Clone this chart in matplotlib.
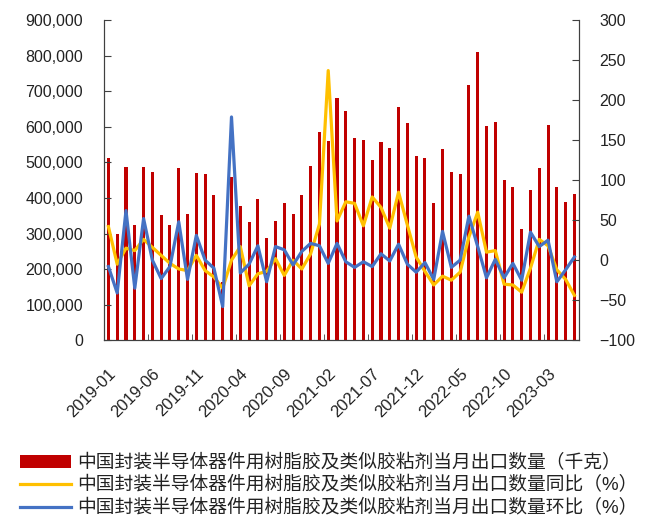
import numpy as np
import pandas as pd
import matplotlib
matplotlib.use('Agg')
import matplotlib.pyplot as plt
from matplotlib.ticker import FuncFormatter, FixedLocator

plt.rcParams['font.family'] = ['Liberation Sans', 'Noto Sans CJK SC', 'DejaVu Sans']

# monthly data, 2019-01 .. 2023-06
months = pd.period_range('2019-01', '2023-06', freq='M').strftime('%Y-%m').tolist()

export_kg = [511000, 300000, 487000, 323000, 487000, 473000, 352000, 325000, 483000, 354000,
             470000, 466000, 408000, 164000, 459000, 377000, 333000, 398000, 286000, 336000,
             386000, 354000, 408000, 490000, 586000, 560000, 680000, 645000, 569000, 562000,
             508000, 556000, 541000, 656000, 612000, 519000, 513000, 386000, 537000, 472000,
             466000, 718000, 811000, 603000, 613000, 451000, 431000, 314000, 422000, 483000,
             606000, 431000, 389000, 411000]

yoy = [42, -5, 15, 12, 26, 16, 6, -4, -11, -13,
       6, -13, -21, -35, 0, 17, -32, -17, -14, 2,
       -19, 0, -11, 8, 45, 237, 49, 73, 71, 43,
       79, 66, 40, 85, 44, 4, -14, -31, -20, -25,
       -15, 29, 60, 10, 12, -30, -31, -40, -10, 26,
       18, -12, -24, -44]

mom = [-8, -41, 62, -35, 52, 0, -23, -8, 48, -24,
       31, 0, -10, -58, 179, -16, -5, 18, -27, 17,
       13, -6, 11, 21, 18, -4, 21, -2, -9, -2,
       -8, 8, -1, 20, -5, -15, -3, -24, 36, -9,
       0, 55, 17, -22, 1, -22, -4, -25, 35, 17,
       25, -27, -12, 4]

label_names = ['中国封装半导体器件用树脂胶及类似胶粘剂当月出口数量（千克）',
               '中国封装半导体器件用树脂胶及类似胶粘剂当月出口数量同比（%）',
               '中国封装半导体器件用树脂胶及类似胶粘剂当月出口数量环比（%）']

x = np.arange(len(months))

fig = plt.figure(figsize=(6.46, 5.17), dpi=100)
ax = fig.add_axes([0.161, 0.342, 0.735, 0.619])
ax2 = ax.twinx()

b = ax.bar(x, export_kg, width=0.35, color='#C00000', label=label_names[0])
l1, = ax2.plot(x, yoy, color='#FFC000', linewidth=2.3, label=label_names[1])
l2, = ax2.plot(x, mom, color='#4472C4', linewidth=2.3, label=label_names[2])

ax.set_xlim(-0.5, len(months) - 0.5)
ax.set_ylim(0, 900000)
ax.set_yticks(np.arange(0, 900001, 100000))
ax.yaxis.set_major_formatter(FuncFormatter(lambda v, p: f'{int(v):,}'))
ax2.set_ylim(-100, 300)
ax2.set_yticks(np.arange(-100, 301, 50))

# labels every 5 months, tick marks between categories
ax.set_xticks(x[::5])
ax.set_xticklabels(months[::5], rotation=45, ha='right', rotation_mode='anchor')
ax.xaxis.set_minor_locator(FixedLocator(x[::5][1:] - 0.5))
ax.tick_params(axis='x', which='major', length=0, pad=19, labelsize=12, labelcolor='#222222')
ax.tick_params(axis='x', which='minor', direction='in', length=4, color='#404040')
ax.tick_params(axis='y', direction='in', length=5, labelsize=11.5, pad=15, color='#404040',
               labelcolor='#222222')
ax2.tick_params(axis='y', direction='in', length=5, labelsize=11.5, pad=15, color='#404040',
                labelcolor='#222222')

for a in (ax, ax2):
    a.spines['top'].set_visible(False)
    for s in ('left', 'right', 'bottom'):
        a.spines[s].set_color('#404040')

fig.legend(handles=[b, l1, l2], loc='upper left', bbox_to_anchor=(0.02, 0.137),
           frameon=False, fontsize=13.5, handlelength=2.7, handletextpad=0.3,
           labelspacing=0.25, borderaxespad=0, labelcolor='#222222')

fig.savefig('out.png', dpi=100)
